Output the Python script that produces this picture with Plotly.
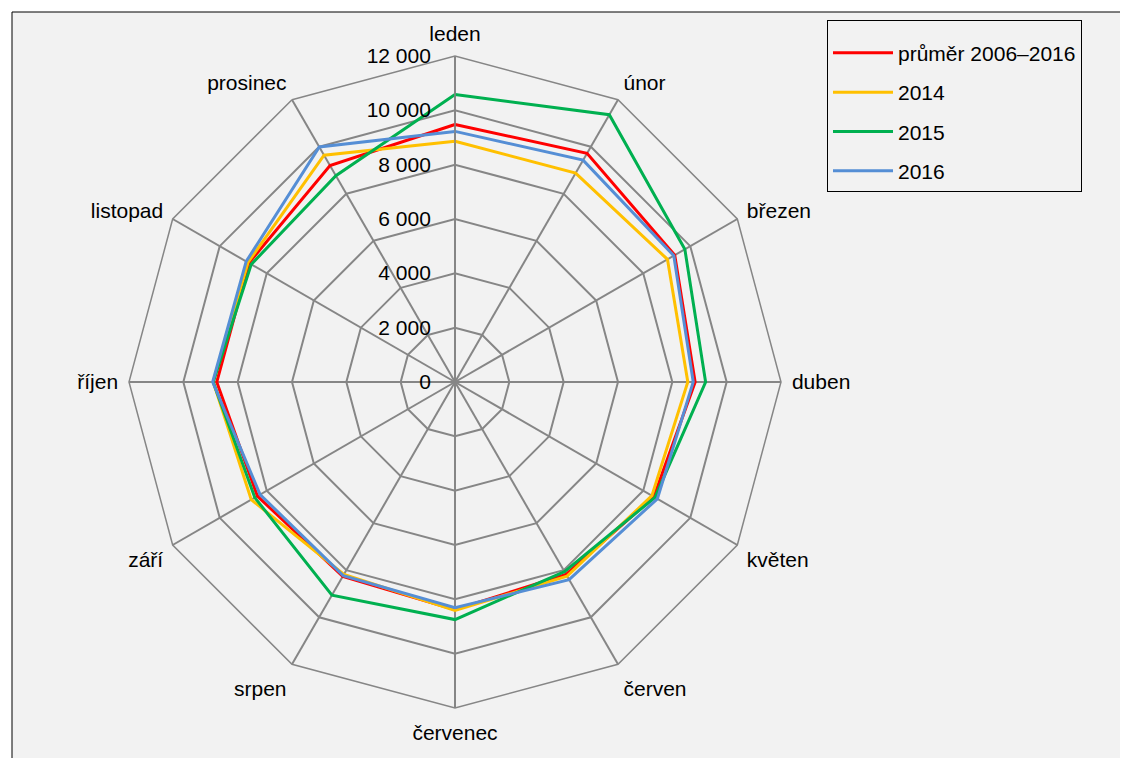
import plotly.graph_objects as go

months = ["leden", "únor", "březen", "duben", "květen", "červen",
          "červenec", "srpen", "září", "říjen", "listopad", "prosinec"]
avg_2006_2016 = [9480, 9720, 9340, 8840, 8450, 8180, 8380, 8260, 8400, 8770, 8760, 9200]
y2014 = [8860, 8880, 9030, 8570, 8370, 8250, 8410, 8180, 8660, 8900, 8800, 9640]
y2015 = [10580, 11360, 9770, 9225, 8500, 8060, 8745, 9060, 8510, 8900, 8660, 8770]
y2016 = [9225, 9430, 9300, 8770, 8600, 8400, 8310, 8230, 8285, 8920, 8875, 9990]

series = [
    ("průměr 2006–2016", avg_2006_2016, "#ff0000"),
    ("2014", y2014, "#ffc000"),
    ("2015", y2015, "#00b050"),
    ("2016", y2016, "#558ed5"),
]

W, H = 1128, 758
OFF = 8  # page body margin
cx, cy, R = 455 - OFF, 382 - OFF, 326
FONT = "Liberation Sans, Arial, sans-serif"
FS = 21
GRID = "#868686"
BG = "#f2f2f2"

fig = go.Figure()
for i, (name, vals, col) in enumerate(series):
    fig.add_trace(go.Scatterpolar(
        r=list(vals) + [vals[0]],
        theta=months + [months[0]],
        mode="lines",
        name=name,
        legendgroup=f"g{i}",
        line=dict(color=col, width=3),
    ))

fig.update_layout(
    width=W, height=H,
    margin=dict(l=0, r=0, t=0, b=0),
    paper_bgcolor="white",
    separators=", ",
    font=dict(family=FONT, size=FS, color="black"),
    polar=dict(
        domain=dict(x=[(cx - R) / W, (cx + R) / W],
                    y=[(H - cy - R) / H, (H - cy + R) / H]),
        bgcolor=BG,
        gridshape="linear",
        angularaxis=dict(
            type="category",
            rotation=90,
            direction="clockwise",
            showline=True, linecolor=GRID, linewidth=1.5,
            showgrid=True, gridcolor=GRID, gridwidth=1.5,
            ticks="outside", ticklen=6, tickcolor="rgba(0,0,0,0)",
            tickfont=dict(family=FONT, size=FS, color="black"),
        ),
        radialaxis=dict(
            range=[0, 12000],
            dtick=2000,
            tick0=0,
            angle=90,
            side="counterclockwise",
            tickangle=90,
            showline=True, linecolor=GRID, linewidth=1.5,
            showgrid=True, gridcolor=GRID, gridwidth=1.5,
            ticks="outside", ticklen=16, tickcolor="rgba(0,0,0,0)",
            tickformat=",.0f",
            tickfont=dict(family=FONT, size=FS, color="black"),
        ),
    ),
    legend=dict(
        x=(827 - OFF) / W, y=1 - (20 - OFF) / H,
        xanchor="left", yanchor="top",
        bgcolor=BG,
        bordercolor="black", borderwidth=1,
        font=dict(family=FONT, size=FS, color="black"),
        title=dict(text=" ", font=dict(size=9)),
        itemwidth=60,
        traceorder="grouped",
        tracegroupgap=9,
    ),
    shapes=[dict(
        type="rect", xref="paper", yref="paper", layer="below",
        x0=(12 - OFF) / W, x1=(1127.5 - OFF) / W, y0=-0.05, y1=1 - (12 - OFF) / H,
        line=dict(color="black", width=1), fillcolor=BG,
    )],
)

fig.write_html("out.html")
